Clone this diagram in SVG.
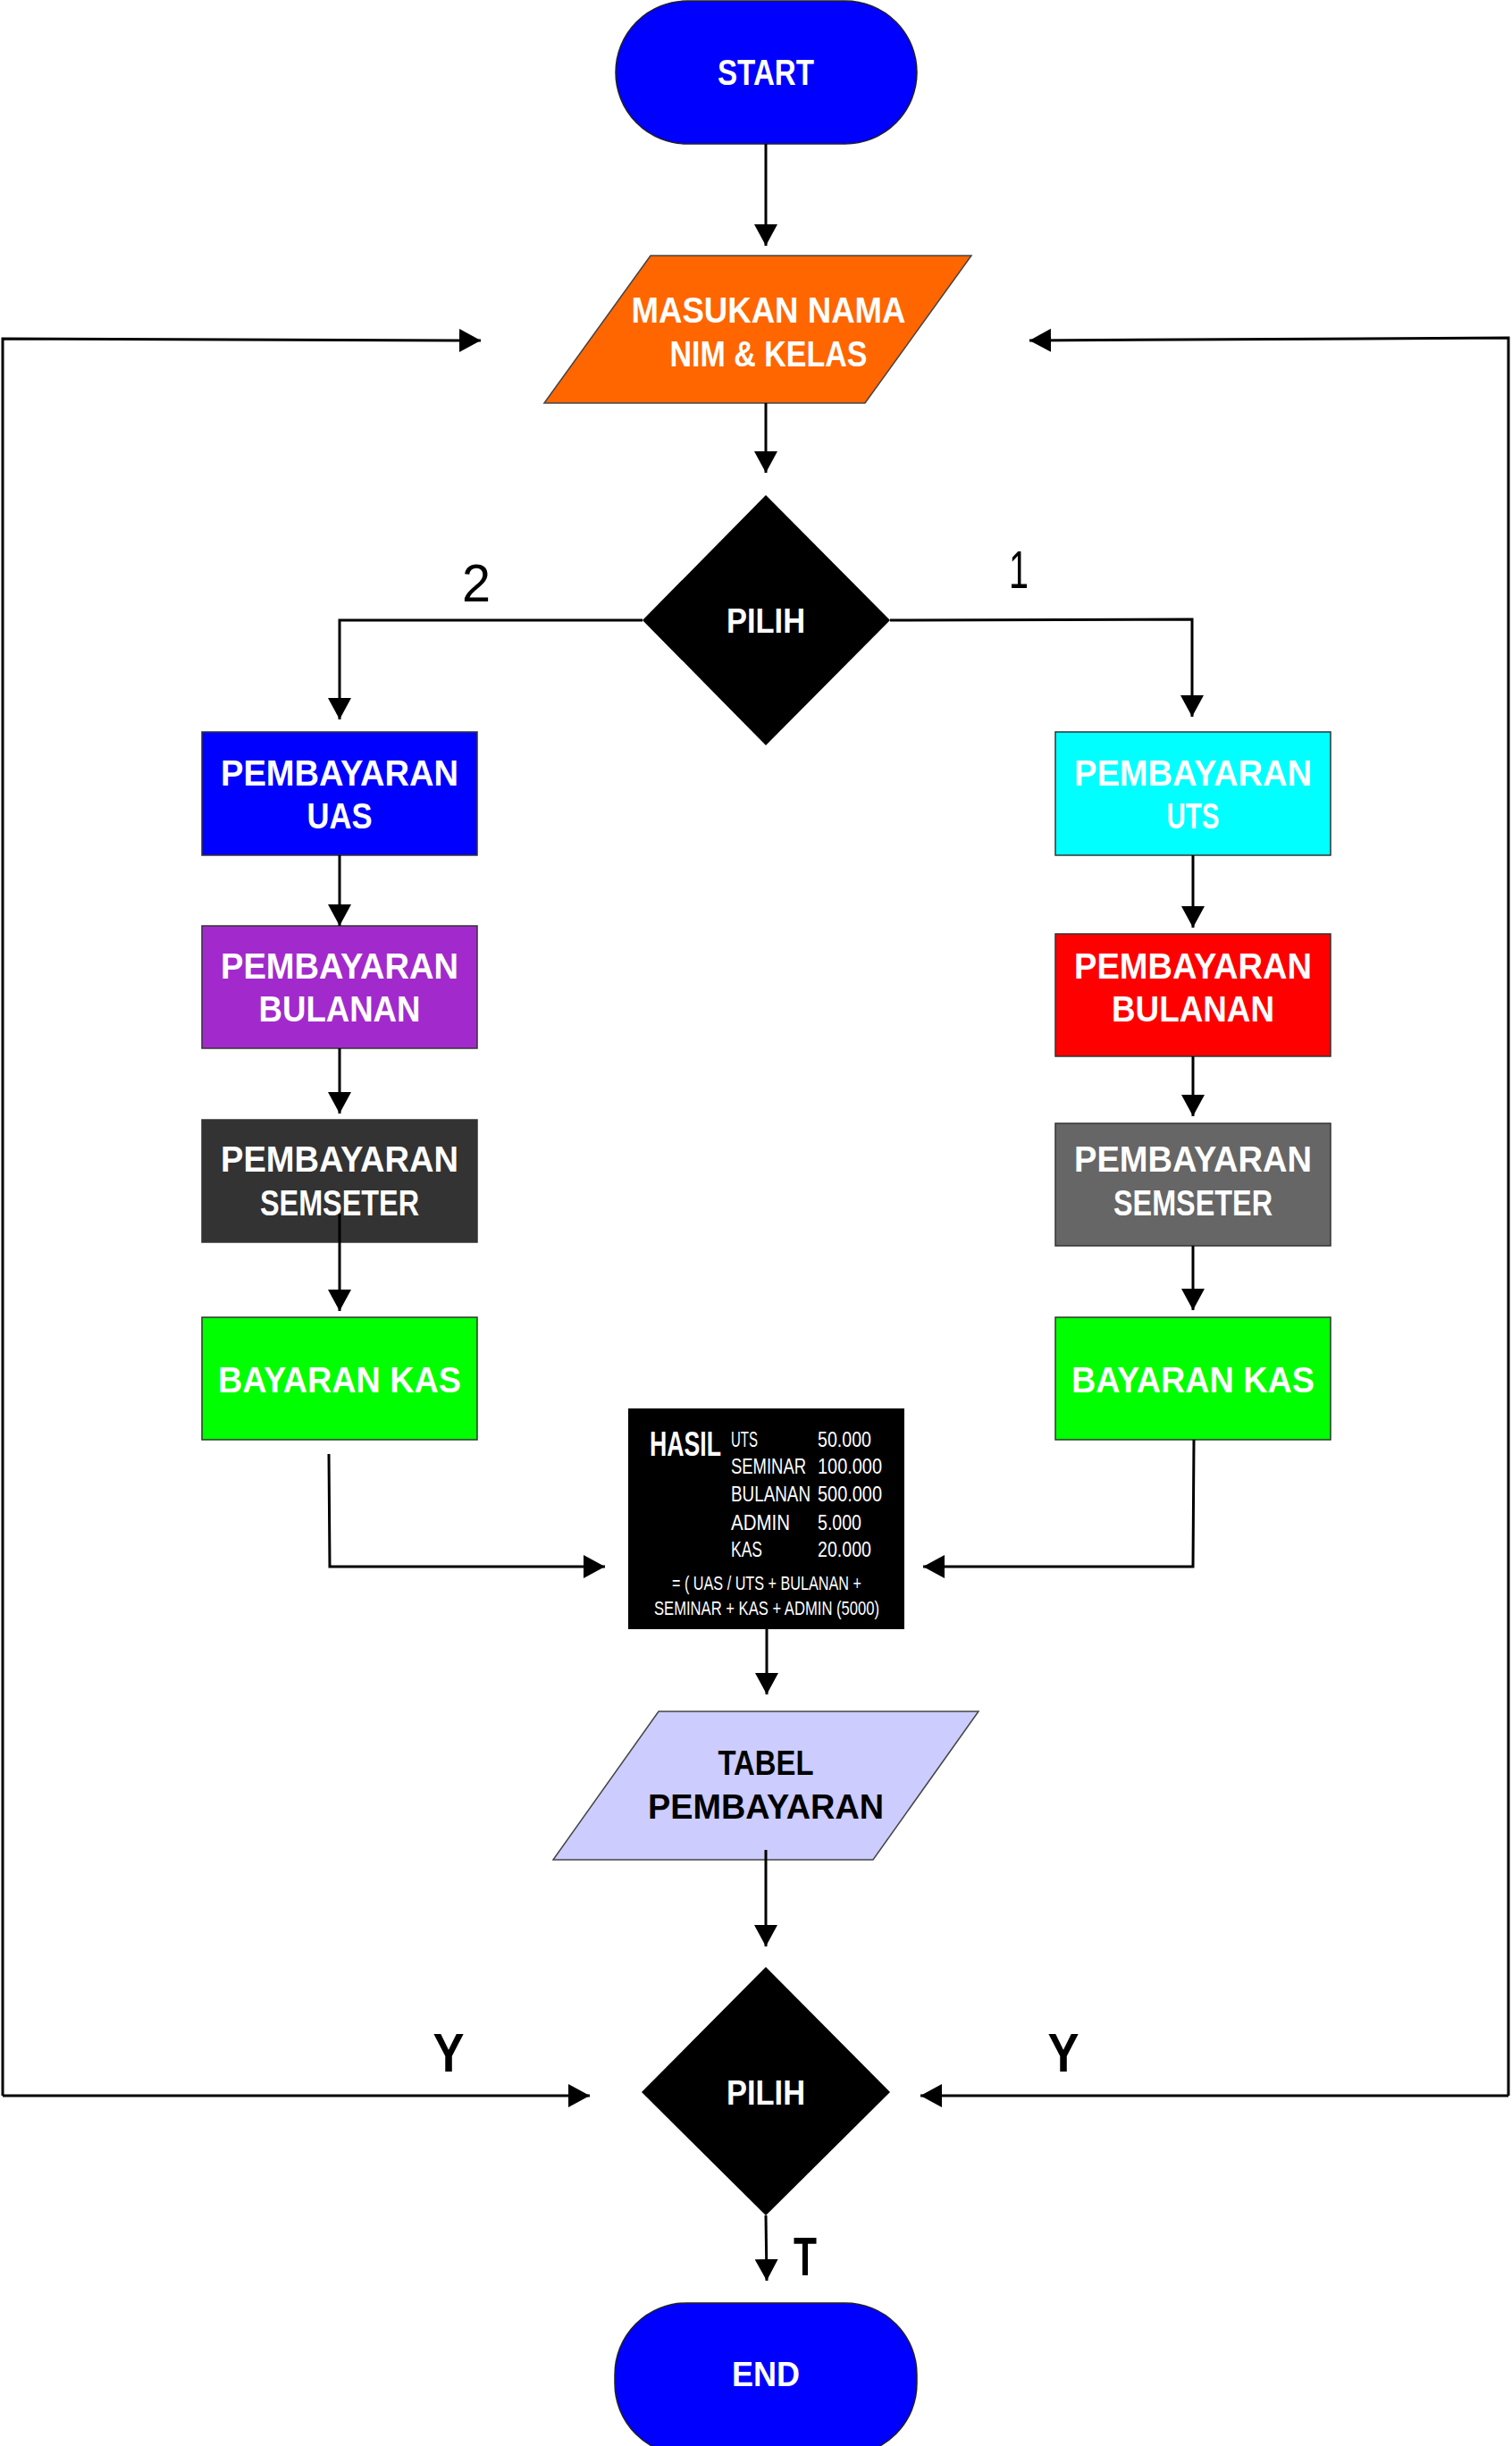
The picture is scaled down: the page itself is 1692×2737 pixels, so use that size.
<svg xmlns="http://www.w3.org/2000/svg" width="1692" height="2737" viewBox="0 0 1692 2737">
<style>
.t{font-family:"Liberation Sans",Arial,sans-serif;font-weight:700;fill:#fff;text-anchor:middle}
.tb{font-family:"Liberation Sans",Arial,sans-serif;font-weight:700;fill:#000;text-anchor:middle}
.lbl{font-family:"Liberation Sans",Arial,sans-serif;fill:#000;text-anchor:middle}
.h{font-family:"Liberation Sans",Arial,sans-serif;fill:#fff;font-size:19px}
.box{stroke:#333;stroke-width:1.5}
.ca{fill:none;stroke:#000;stroke-width:3;marker-end:url(#ah)}
</style>
<defs>
<marker id="ah" markerUnits="userSpaceOnUse" markerWidth="26" markerHeight="28" refX="24" refY="13" orient="auto" viewBox="0 0 26 28">
<path d="M0,0 L24,13 L0,26 z" fill="#000"/>
</marker>
</defs>
<rect width="1692" height="2737" fill="#fff"/>

<g id="start">
<rect x="689" y="1" width="337" height="160" rx="80" ry="80" fill="#0000ff" stroke="#222" stroke-width="1.5"/>
<text class="t" x="857" y="95" font-size="40" textLength="108" lengthAdjust="spacingAndGlyphs">START</text>
</g>

<g id="input">
<polygon points="728,286 1087,286 968,451 609,451" fill="#ff6600" stroke="#444" stroke-width="1.5"/>
<text class="t" x="860" y="361" font-size="40" textLength="307" lengthAdjust="spacingAndGlyphs">MASUKAN NAMA</text>
<text class="t" x="860" y="410" font-size="40" textLength="221" lengthAdjust="spacingAndGlyphs">NIM &amp; KELAS</text>
</g>

<g id="pilih1">
<polygon points="857,554 996,694 857,834 719,694" fill="#000"/>
<text class="t" x="857" y="708" font-size="39" textLength="88" lengthAdjust="spacingAndGlyphs">PILIH</text>
</g>

<g id="label2"><text class="lbl" x="533" y="673" font-size="60" textLength="32" lengthAdjust="spacingAndGlyphs">2</text></g>
<g id="label1"><text class="lbl" x="1140" y="658" font-size="60" textLength="22" lengthAdjust="spacingAndGlyphs">1</text></g>

<g id="uas">
<rect class="box" x="226" y="819" width="308" height="138" fill="#0000ff"/>
<text class="t" x="380" y="879" font-size="40" textLength="266" lengthAdjust="spacingAndGlyphs">PEMBAYARAN</text>
<text class="t" x="380" y="927" font-size="40" textLength="73" lengthAdjust="spacingAndGlyphs">UAS</text>
</g>
<g id="bulanan-left">
<rect class="box" x="226" y="1036" width="308" height="137" fill="#a22acc"/>
<text class="t" x="380" y="1095" font-size="40" textLength="266" lengthAdjust="spacingAndGlyphs">PEMBAYARAN</text>
<text class="t" x="380" y="1143" font-size="40" textLength="181" lengthAdjust="spacingAndGlyphs">BULANAN</text>
</g>
<g id="semester-left">
<rect class="box" x="226" y="1253" width="308" height="137" fill="#333333"/>
<text class="t" x="380" y="1311" font-size="40" textLength="266" lengthAdjust="spacingAndGlyphs">PEMBAYARAN</text>
<text class="t" x="380" y="1360" font-size="40" textLength="178" lengthAdjust="spacingAndGlyphs">SEMSETER</text>
</g>
<g id="kas-left">
<rect class="box" x="226" y="1474" width="308" height="137" fill="#00ff00"/>
<text class="t" x="380" y="1558" font-size="40" textLength="272" lengthAdjust="spacingAndGlyphs">BAYARAN KAS</text>
</g>

<g id="uts">
<rect class="box" x="1181" y="819" width="308" height="138" fill="#00ffff"/>
<text class="t" x="1335" y="879" font-size="40" textLength="266" lengthAdjust="spacingAndGlyphs">PEMBAYARAN</text>
<text class="t" x="1335" y="927" font-size="40" textLength="59" lengthAdjust="spacingAndGlyphs">UTS</text>
</g>
<g id="bulanan-right">
<rect class="box" x="1181" y="1045" width="308" height="137" fill="#ff0000"/>
<text class="t" x="1335" y="1095" font-size="40" textLength="266" lengthAdjust="spacingAndGlyphs">PEMBAYARAN</text>
<text class="t" x="1335" y="1143" font-size="40" textLength="182" lengthAdjust="spacingAndGlyphs">BULANAN</text>
</g>
<g id="semester-right">
<rect class="box" x="1181" y="1257" width="308" height="137" fill="#666666"/>
<text class="t" x="1335" y="1311" font-size="40" textLength="266" lengthAdjust="spacingAndGlyphs">PEMBAYARAN</text>
<text class="t" x="1335" y="1360" font-size="40" textLength="178" lengthAdjust="spacingAndGlyphs">SEMSETER</text>
</g>
<g id="kas-right">
<rect class="box" x="1181" y="1474" width="308" height="137" fill="#00ff00"/>
<text class="t" x="1335" y="1558" font-size="40" textLength="272" lengthAdjust="spacingAndGlyphs">BAYARAN KAS</text>
</g>

<g id="hasil">
<rect x="703" y="1576" width="309" height="247" fill="#000"/>
<text class="h" transform="translate(727,1629) scale(1,1.3)" style="font-size:30px;font-weight:700" textLength="80" lengthAdjust="spacingAndGlyphs">HASIL</text>
<text class="h" transform="translate(818,1619) scale(1,1.26)" textLength="30" lengthAdjust="spacingAndGlyphs">UTS</text>
<text class="h" transform="translate(915,1619) scale(1,1.26)" textLength="60" lengthAdjust="spacingAndGlyphs">50.000</text>
<text class="h" transform="translate(818,1649) scale(1,1.26)" textLength="84" lengthAdjust="spacingAndGlyphs">SEMINAR</text>
<text class="h" transform="translate(915,1649) scale(1,1.26)" textLength="72" lengthAdjust="spacingAndGlyphs">100.000</text>
<text class="h" transform="translate(818,1680) scale(1,1.26)" textLength="89" lengthAdjust="spacingAndGlyphs">BULANAN</text>
<text class="h" transform="translate(915,1680) scale(1,1.26)" textLength="72" lengthAdjust="spacingAndGlyphs">500.000</text>
<text class="h" transform="translate(818,1712) scale(1,1.26)" textLength="66" lengthAdjust="spacingAndGlyphs">ADMIN</text>
<text class="h" transform="translate(915,1712) scale(1,1.26)" textLength="49" lengthAdjust="spacingAndGlyphs">5.000</text>
<text class="h" transform="translate(818,1742) scale(1,1.26)" textLength="35" lengthAdjust="spacingAndGlyphs">KAS</text>
<text class="h" transform="translate(915,1742) scale(1,1.26)" textLength="60" lengthAdjust="spacingAndGlyphs">20.000</text>
<text class="h" transform="translate(858,1779) scale(1,1.3)" style="font-size:17px;text-anchor:middle" textLength="212" lengthAdjust="spacingAndGlyphs">= ( UAS / UTS + BULANAN +</text>
<text class="h" transform="translate(858,1807) scale(1,1.3)" style="font-size:17px;text-anchor:middle" textLength="252" lengthAdjust="spacingAndGlyphs">SEMINAR + KAS + ADMIN (5000)</text>
</g>

<g id="tabel">
<polygon points="737,1915 1095,1915 977,2081 619,2081" fill="#ccccff" stroke="#444" stroke-width="1.5"/>
<text class="tb" x="857" y="1986" font-size="39" textLength="107" lengthAdjust="spacingAndGlyphs">TABEL</text>
<text class="tb" x="857" y="2035" font-size="39" textLength="264" lengthAdjust="spacingAndGlyphs">PEMBAYARAN</text>
</g>

<g id="pilih2">
<polygon points="857,2201 996,2341 857,2479 718,2341" fill="#000"/>
<text class="t" x="857" y="2355" font-size="39" textLength="88" lengthAdjust="spacingAndGlyphs">PILIH</text>
</g>

<g id="labelY1"><text class="lbl" x="502" y="2318" font-size="62" font-weight="700" textLength="35" lengthAdjust="spacingAndGlyphs">Y</text></g>
<g id="labelY2"><text class="lbl" x="1190" y="2318" font-size="62" font-weight="700" textLength="35" lengthAdjust="spacingAndGlyphs">Y</text></g>
<g id="labelT"><text class="lbl" x="901" y="2546" font-size="61" font-weight="700" textLength="26" lengthAdjust="spacingAndGlyphs">T</text></g>

<g id="end">
<rect x="688" y="2577" width="338" height="170" rx="80" ry="80" fill="#0000ff" stroke="#222" stroke-width="1.5"/>
<text class="t" x="857" y="2670" font-size="39" textLength="76" lengthAdjust="spacingAndGlyphs">END</text>
</g>

<g id="connectors">
<path class="ca" d="M857,161 L857,275"/>
<path class="ca" d="M857,451 L857,529"/>
<path class="ca" d="M719,694 L380,694 L380,805"/>
<path class="ca" d="M996,694 L1334,693 L1334,802"/>
<path class="ca" d="M380,957 L380,1036"/>
<path class="ca" d="M380,1173 L380,1246"/>
<path class="ca" d="M380,1358 L380,1467"/>
<path class="ca" d="M1335,957 L1335,1038"/>
<path class="ca" d="M1335,1182 L1335,1249"/>
<path class="ca" d="M1335,1394 L1335,1466"/>
<path class="ca" d="M368,1627 L369,1753 L677,1753"/>
<path class="ca" d="M1336,1611 L1335,1753 L1033,1753"/>
<path class="ca" d="M858,1823 L858,1896"/>
<path class="ca" d="M857,2070 L857,2178"/>
<path class="ca" d="M857,2479 L858,2552"/>
<path class="ca" d="M3,2345 L3,379 L538,381"/>
<path class="ca" d="M3,2345 L660,2345"/>
<path class="ca" d="M1688,2345 L1688,378 L1152,381"/>
<path class="ca" d="M1688,2345 L1030,2345"/>
</g>
</svg>
